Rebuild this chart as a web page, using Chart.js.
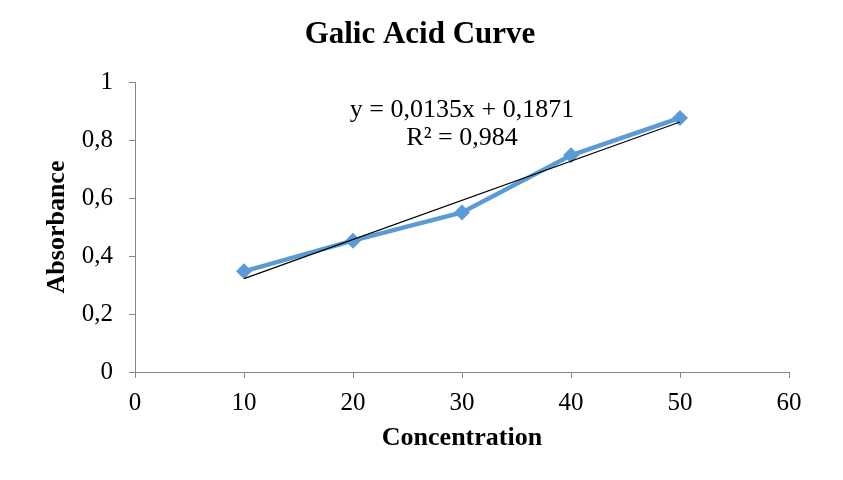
<!DOCTYPE html>
<html><head><meta charset="utf-8">
<script src="https://cdn.jsdelivr.net/npm/chart.js@4.4.1/dist/chart.umd.min.js"></script>
<style>html,body{margin:0;padding:0;background:#fff}#wrap{width:843px;height:480px}</style>
</head><body><div id="wrap"><canvas id="c" width="843" height="480"></canvas></div>
<script>
const concentration = [10, 20, 30, 40, 50];
const absorbance = [0.347, 0.453, 0.550, 0.747, 0.876];
const trendSlope = 0.0135;
const trendIntercept = 0.1871;
const chartTitle = "Galic Acid Curve";
const equationLines = ["y = 0,0135x + 0,1871", "R² = 0,984"];
const xTicks = [0, 10, 20, 30, 40, 50, 60];
const yTicks = [0, 0.2, 0.4, 0.6, 0.8, 1];

const trendX = [concentration[0], concentration[concentration.length - 1]];
const fmt = v => String(Math.round(v * 10) / 10).replace('.', ',');
const serif = "'Liberation Serif','Times New Roman',serif";
const axisGray = '#878787';

const textPlugin = {
  id: 'texts',
  afterDraw(chart) {
    const {ctx, scales: {x, y}} = chart;
    ctx.save();
    ctx.fillStyle = '#000';
    ctx.textAlign = 'center';
    ctx.textBaseline = 'alphabetic';
    ctx.font = "bold 31px " + serif;
    ctx.fillText(chartTitle, 420, 43);
    ctx.font = "26px " + serif;
    const cx = x.getPixelForValue(30);
    ctx.fillText(equationLines[0], cx, y.getPixelForValue(0.879));
    ctx.fillText(equationLines[1], cx, y.getPixelForValue(0.783));
    ctx.restore();
  }
};

new Chart(document.getElementById('c'), {
  type: 'scatter',
  data: {
    datasets: [
      {
        label: 'Absorbance',
        data: concentration.map((c, i) => ({x: c, y: absorbance[i]})),
        showLine: true,
        borderColor: '#5B9BD5',
        backgroundColor: '#5B9BD5',
        borderWidth: 4.5,
        pointStyle: 'rectRot',
        pointRadius: 8,
        pointBorderWidth: 0,
        order: 1
      },
      {
        label: 'Linear',
        data: trendX.map(c => ({x: c, y: trendSlope * c + trendIntercept})),
        showLine: true,
        borderColor: '#000',
        borderWidth: 1.2,
        pointRadius: 0,
        order: 0
      }
    ]
  },
  options: {
    responsive: false,
    animation: false,
    devicePixelRatio: 1,
    layout: {padding: {left: 0, right: 54, top: 82, bottom: 0}},
    plugins: {
      legend: {display: false},
      tooltip: {enabled: false},
      title: {display: false}
    },
    scales: {
      x: {
        type: 'linear', min: 0, max: 60,
        afterBuildTicks: s => { s.ticks = xTicks.map(v => ({value: v})); },
        afterFit: s => { s.height = 108; },
        grid: {drawOnChartArea: false, drawTicks: true, tickLength: 6, color: axisGray},
        border: {display: true, color: axisGray, width: 1},
        ticks: {color: '#000', font: {family: serif, size: 25}, padding: 10, maxRotation: 0},
        title: {display: true, text: 'Concentration', color: '#000', font: {family: serif, size: 26, weight: 'bold'}, padding: {top: 0, bottom: 26}}
      },
      y: {
        type: 'linear', min: 0, max: 1,
        afterBuildTicks: s => { s.ticks = yTicks.map(v => ({value: v})); },
        afterFit: s => { s.width = 135; },
        grid: {drawOnChartArea: false, drawTicks: true, tickLength: 6, color: axisGray},
        border: {display: true, color: axisGray, width: 1},
        ticks: {color: '#000', font: {family: serif, size: 25}, padding: 16, callback: v => fmt(v)},
        title: {display: true, text: 'Absorbance', color: '#000', font: {family: serif, size: 26, weight: 'bold'}, padding: {top: 42, bottom: 0}}
      }
    }
  },
  plugins: [textPlugin]
});
</script></body></html>
